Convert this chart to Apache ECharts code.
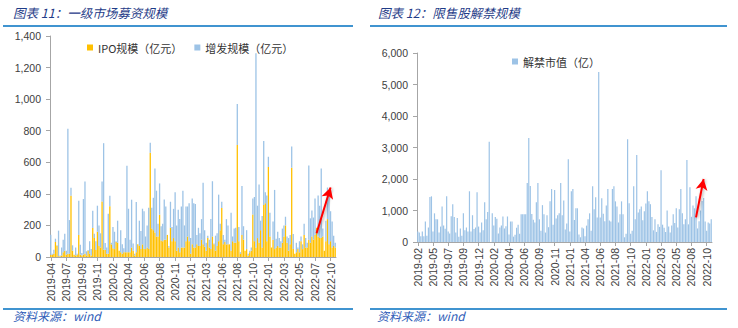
<!DOCTYPE html>
<html>
<head>
<meta charset="utf-8">
<script src="https://cdn.jsdelivr.net/npm/echarts@6/dist/echarts.min.js"></script>
<style>
html,body{margin:0;padding:0;background:#fff;}
#c{width:738px;height:328px;}
</style>
</head>
<body>
<div id="c"></div>
<script>
// ---------- data ----------
const leftTicks = ['2019-04','2019-07','2019-09','2019-11','2020-02','2020-04','2020-06','2020-08','2020-11','2021-01','2021-03','2021-06','2021-08','2021-10','2022-01','2022-03','2022-05','2022-07','2022-10'];
const rightTicks = ['2019-02','2019-05','2019-07','2019-09','2019-12','2020-02','2020-04','2020-06','2020-09','2020-11','2021-01','2021-04','2021-06','2021-08','2021-10','2022-01','2022-03','2022-05','2022-08','2022-10'];

// IPO规模（亿元） weekly
const ipoValues = [
15,15,20,95,72,5,5,10,30,40,
15,20,20,388,40,15,10,15,140,15,
10,15,20,10,40,20,10,183,120,45,
160,70,60,352,46,46,20,20,321,80,
55,50,95,90,40,30,20,30,30,30,
30,30,60,40,10,30,80,70,50,80,
50,50,60,50,660,180,170,155,130,130,
268,105,100,110,110,140,60,185,100,120,
100,40,60,30,60,60,60,100,130,100,
20,80,60,60,80,70,70,110,80,65,
40,120,60,50,130,80,40,70,100,170,
310,80,95,80,80,80,40,100,90,90,
710,100,20,140,110,40,50,10,30,40,
270,100,60,120,90,170,60,330,340,100,
570,130,60,110,50,60,70,60,60,90,
130,200,90,40,80,565,50,20,30,50,
30,100,50,140,60,60,110,90,130,110,
140,185,130,120,120,130,40,100,240,80,
100,60,70,60
];
// 增发规模（亿元） weekly
const placementValues = [
126,5,26,21,2,162,5,50,80,107,
25,792,214,51,34,0,50,5,217,63,
15,352,459,26,5,80,41,110,28,55,
165,130,90,127,675,43,40,254,67,10,
135,110,5,140,0,140,60,25,90,548,
276,80,303,45,10,318,0,160,115,226,
240,80,140,262,64,132,205,405,290,80,
198,90,110,255,210,0,10,165,90,185,
310,160,240,210,260,360,140,220,190,240,
100,290,280,275,60,115,80,130,390,105,
50,15,50,190,350,5,95,80,295,40,
40,60,15,160,120,0,240,30,90,95,
260,90,10,310,85,0,120,10,10,20,
100,280,1230,205,370,60,200,405,70,290,
65,150,0,115,375,55,90,60,40,90,
70,55,40,80,60,135,95,0,60,10,
70,30,30,70,60,30,470,155,165,140,
230,0,260,205,440,50,0,130,200,340,
190,165,65,30
];
// 解禁市值（亿） weekly
const unlockValues = [
330,300,180,330,180,650,200,460,1430,1450,
330,910,720,720,300,490,1130,520,420,1450,
330,270,820,1200,790,300,760,170,430,200,
910,370,460,330,1610,330,850,410,460,1580,
490,300,620,370,1260,720,950,3180,0,910,
520,790,740,270,460,520,810,430,500,810,
240,650,650,170,230,450,550,260,880,880,
880,880,1870,3300,1780,890,710,620,1260,1870,
720,360,1170,880,300,850,470,1290,1680,550,
1650,750,850,910,1870,850,1320,400,590,2630,
330,1610,1680,700,1070,1070,240,150,460,430,
180,520,720,910,360,1770,1040,1420,780,5400,
780,1390,900,660,1160,1680,680,650,1680,1770,
1290,1130,620,880,1290,880,150,260,3260,1230,
260,360,1770,720,2760,940,1040,1130,690,980,
1220,1610,1290,1200,790,370,720,320,560,480,
2280,550,450,320,1000,490,300,520,880,600,
1070,460,1040,1680,910,560,720,2600,560,1740,
800,1160,1070,1450,430,660,1000,1300,1400,650,
360,620,590,720
];
// arrow annotations [categoryIndex, value]
const leftArrow = [[171,150],[180,440]];
const rightArrow = [[183,780],[188,2000]];

// ---------- build ----------
function makeCats(n, ticks){
  const a = [];
  for (let i = 0; i < n; i++) a.push(i % 10 === 0 ? ticks[i/10] : ('w' + i));
  return a;
}
const leftCats = makeCats(ipoValues.length, leftTicks);
const rightCats = makeCats(unlockValues.length, rightTicks);

const FONT = '"Liberation Sans", Arial, sans-serif';
const CJK = '"Noto Sans CJK SC", sans-serif';
const axisGray = '#A6A6A6';
const labelColor = '#404040';
const fmt = v => v.toLocaleString('en-US');

function xAx(gridIndex, cats){
  return {
    type:'category', gridIndex, data:cats, boundaryGap:true,
    axisLine:{lineStyle:{color:axisGray, width:1}},
    axisTick:{show:true, interval:9, alignWithLabel:true, length:4, lineStyle:{color:axisGray}},
    axisLabel:{interval:9, rotate:90, margin:6, fontSize:10.5, color:labelColor, fontFamily:FONT}
  };
}
function yAx(gridIndex, max, interval){
  return {
    type:'value', gridIndex, min:0, max, interval,
    axisLine:{show:true, lineStyle:{color:axisGray, width:1}},
    axisTick:{show:true, length:4, lineStyle:{color:axisGray}},
    splitLine:{show:false},
    axisLabel:{formatter:fmt, margin:9, fontSize:10.5, color:labelColor, fontFamily:FONT}
  };
}
function arrowLine(pts){
  return {
    silent:true, symbol:['none','arrow'], symbolSize:[9,11],
    label:{show:false},
    lineStyle:{color:'#FF0000', width:2, type:'solid', shadowColor:'rgba(0,0,0,0.35)', shadowBlur:3, shadowOffsetX:1, shadowOffsetY:1},
    data:[[{coord:pts[0]},{coord:pts[1]}]]
  };
}

const titleStyle = {fontSize:12.5, fontStyle:'italic', fontWeight:'normal', color:'#1F3C88', fontFamily:CJK};
const srcStyle = {fontSize:12, fontStyle:'italic', fontWeight:'normal', color:'#2F5DB8', fontFamily:CJK};

const chart = echarts.init(document.getElementById('c'), null, {renderer:'svg'});
chart.setOption({
  animation:false,
  backgroundColor:'#fff',
  title:[
    {text:'图表 11：一级市场募资规模', left:13, top:6, padding:0, textStyle:titleStyle},
    {text:'图表 12：限售股解禁规模', left:378, top:6, padding:0, textStyle:titleStyle},
    {text:'资料来源：wind', left:13, top:309, padding:0, textStyle:srcStyle},
    {text:'资料来源：wind', left:377, top:309, padding:0, textStyle:srcStyle}
  ],
  graphic:[
    {type:'line', shape:{x1:3,y1:26,x2:353,y2:26}, style:{stroke:'#0070C0', lineWidth:1.3}},
    {type:'line', shape:{x1:370,y1:26,x2:727,y2:26}, style:{stroke:'#0070C0', lineWidth:1.3}},
    {type:'line', shape:{x1:3,y1:309,x2:353,y2:309}, style:{stroke:'#0070C0', lineWidth:1.3}},
    {type:'line', shape:{x1:370,y1:309,x2:727,y2:309}, style:{stroke:'#0070C0', lineWidth:1.3}}
  ],
  legend:[
    {data:['IPO规模（亿元）','增发规模（亿元）'], left:87, top:42, padding:0, itemWidth:6, itemHeight:6, itemGap:12, icon:'rect',
     textStyle:{fontSize:11, color:'#333', fontFamily:CJK}},
    {data:['解禁市值（亿）'], left:512, top:56, padding:0, itemWidth:6, itemHeight:6, icon:'rect',
     textStyle:{fontSize:11, color:'#333', fontFamily:CJK}}
  ],
  grid:[
    {left:50, top:36, width:286, height:221},
    {left:417, top:53, width:295, height:189}
  ],
  xAxis:[xAx(0, leftCats), xAx(1, rightCats)],
  yAxis:[yAx(0, 1400, 200), yAx(1, 6000, 1000)],
  series:[
    {type:'bar', name:'IPO规模（亿元）', xAxisIndex:0, yAxisIndex:0, stack:'L', data:ipoValues,
     barWidth:1.3, itemStyle:{color:'#FFC000'}},
    {type:'bar', name:'增发规模（亿元）', xAxisIndex:0, yAxisIndex:0, stack:'L', data:placementValues,
     barWidth:1.3, itemStyle:{color:'#9DC3E6'}, markLine:arrowLine(leftArrow)},
    {type:'bar', name:'解禁市值（亿）', xAxisIndex:1, yAxisIndex:1, data:unlockValues,
     barWidth:1.2, itemStyle:{color:'#9DC3E6'}, markLine:arrowLine(rightArrow)}
  ]
});
</script>
</body>
</html>
